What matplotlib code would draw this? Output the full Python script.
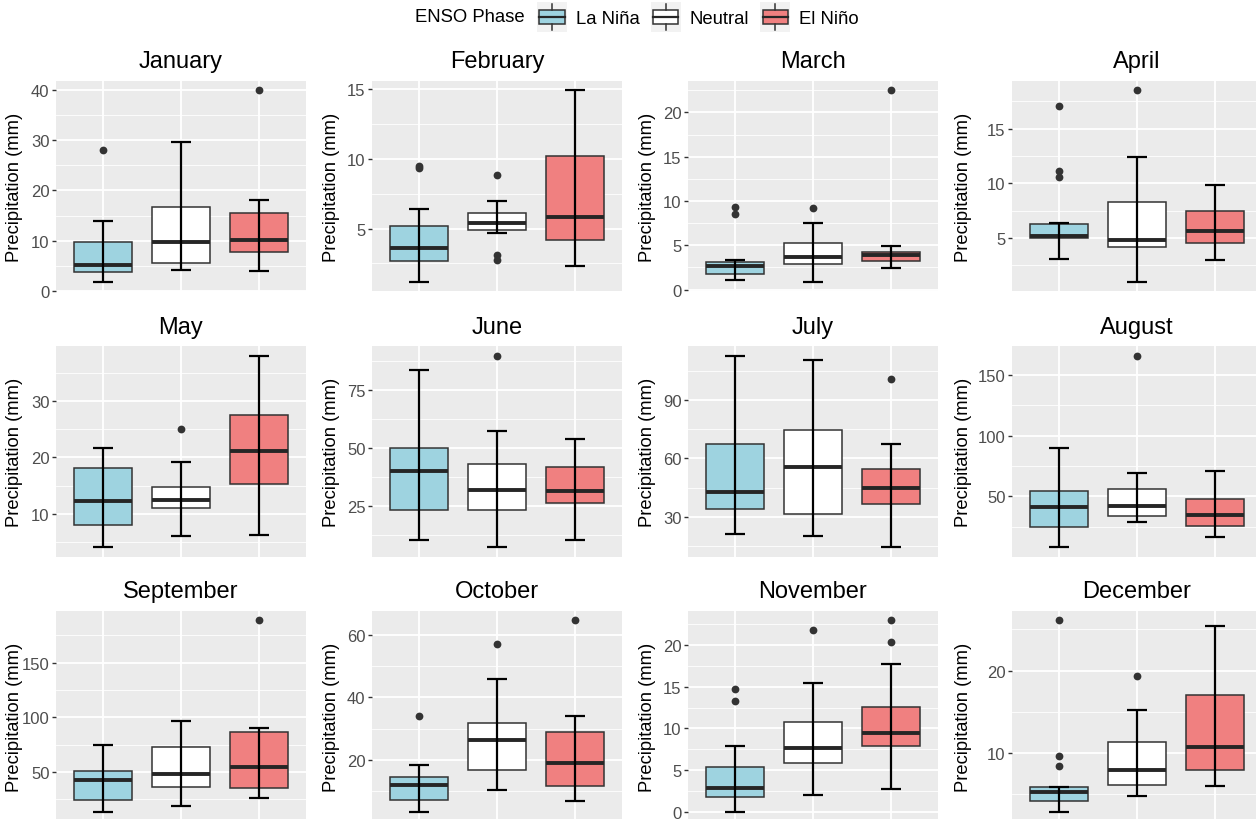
import matplotlib.pyplot as plt
from matplotlib.legend_handler import HandlerBase
from matplotlib.patches import Rectangle, Patch
from matplotlib.lines import Line2D

plt.rcParams['font.family'] = ['Liberation Sans', 'DejaVu Sans']

months = ['January', 'February', 'March', 'April', 'May', 'June',
          'July', 'August', 'September', 'October', 'November', 'December']
phases = ['La Niña', 'Neutral', 'El Niño']
phase_colors = ['#9ED3E0', '#FFFFFF', '#F08080']

# box statistics per month, one value per phase (La Niña, Neutral, El Niño)
whisker_low = [
    [1.8, 4.1, 3.9], [1.2, 4.7, 2.3], [1.1, 0.9, 2.4], [3.1, 1.0, 3.0],
    [4.0, 6.0, 6.2], [10.3, 7.3, 10.3], [21.1, 20.4, 14.4], [8.1, 28.6, 16.3],
    [13.5, 18.4, 25.7], [3.3, 10.4, 6.6], [0.0, 2.0, 2.7], [2.9, 4.8, 6.0],
]
q1 = [
    [3.7, 5.5, 7.7], [2.7, 4.9, 4.2], [1.8, 2.9, 3.2], [5.0, 4.2, 4.5],
    [8.0, 11.0, 15.2], [23.3, 23.1, 26.4], [33.9, 31.7, 36.7], [24.8, 33.6, 25.9],
    [23.9, 36.3, 35.1], [6.9, 16.7, 11.4], [1.7, 5.8, 7.9], [4.2, 6.1, 8.0],
]
medians = [
    [5.2, 9.75, 10.2], [3.6, 5.4, 5.8], [2.7, 3.7, 3.9], [5.15, 4.85, 5.6],
    [12.3, 12.5, 21.1], [40.3, 32.1, 31.3], [42.6, 55.5, 44.9], [41.0, 42.3, 34.4],
    [42.1, 47.6, 54.0], [11.7, 26.4, 18.8], [2.8, 7.7, 9.4], [5.3, 8.0, 10.7],
]
q3 = [
    [9.75, 16.6, 15.5], [5.2, 6.1, 10.2], [3.1, 5.3, 4.2], [6.3, 8.3, 7.5],
    [18.2, 14.7, 27.6], [50.0, 42.9, 41.7], [67.4, 74.6, 54.4], [54.1, 55.8, 47.8],
    [51.2, 73.1, 86.2], [14.5, 31.7, 29.0], [5.4, 10.8, 12.6], [5.85, 11.3, 17.0],
]
whisker_high = [
    [13.9, 29.6, 18.1], [6.4, 6.95, 14.9], [3.3, 7.5, 4.9], [6.4, 12.4, 9.8],
    [21.7, 19.2, 38.1], [83.6, 57.3, 54.0], [112.7, 110.7, 67.6], [90.0, 68.9, 71.0],
    [74.9, 96.5, 90.1], [18.3, 45.8, 34.0], [7.9, 15.5, 17.8], [5.85, 15.2, 25.4],
]
outliers = [
    [[28.1], [], [40.0]],
    [[9.3, 9.5], [8.8, 3.1, 2.75], []],
    [[9.3, 8.5], [9.2], [22.5]],
    [[17.1, 11.1, 10.6], [18.5], []],
    [[], [25.1], []],
    [[], [89.6], []],
    [[], [], [100.8]],
    [[], [165.6], []],
    [[], [], [188.9]],
    [[34.1], [57.2], [64.8]],
    [[14.7, 13.3], [21.8], [23.0, 20.4]],
    [[26.1, 9.6, 8.4], [19.3], []],
]
y_breaks = [
    [0, 10, 20, 30, 40], [5, 10, 15], [0, 5, 10, 15, 20], [5, 10, 15],
    [10, 20, 30], [25, 50, 75], [30, 60, 90], [50, 100, 150],
    [50, 100, 150], [20, 40, 60], [0, 5, 10, 15, 20], [10, 20],
]

# layout in pixels
FIG_W, FIG_H = 1256, 820
col_left = [56, 372, 688, 1012]
row_top = [81.7, 347.3, 611.7]
panel_w, panel_h = 250, 210.5
ylab_center = [15, 332, 647, 964]

BG = '#EBEBEB'
EDGE = '#333333'


class BoxKeyHandler(HandlerBase):
    def create_artists(self, legend, orig_handle, xdescent, ydescent,
                       width, height, fontsize, trans):
        x0, y0 = -xdescent, -ydescent
        cx = x0 + width / 2
        bg = Rectangle((x0, y0), width, height, facecolor='#F2F2F2',
                       edgecolor='none', transform=trans)
        box = Rectangle((x0 + 0.08 * width, y0 + 0.27 * height), 0.84 * width,
                        0.46 * height, facecolor=orig_handle.get_facecolor(),
                        edgecolor=EDGE, lw=1.1, transform=trans)
        med = Line2D([x0 + 0.08 * width, x0 + 0.92 * width],
                     [y0 + 0.5 * height] * 2, color='#262626', lw=1.6,
                     transform=trans)
        wlo = Line2D([cx, cx], [y0 + 0.06 * height, y0 + 0.27 * height],
                     color=EDGE, lw=1.1, transform=trans)
        whi = Line2D([cx, cx], [y0 + 0.73 * height, y0 + 0.94 * height],
                     color=EDGE, lw=1.1, transform=trans)
        return [bg, box, med, wlo, whi]


fig = plt.figure(figsize=(FIG_W / 100, FIG_H / 100), dpi=100)
positions = [1, 2, 3]

for m, month in enumerate(months):
    r, c = divmod(m, 4)
    ax = fig.add_axes([col_left[c] / FIG_W,
                       1 - (row_top[r] + panel_h) / FIG_H,
                       panel_w / FIG_W, panel_h / FIG_H])
    ax.set_facecolor(BG)
    for s in ax.spines.values():
        s.set_visible(False)

    stats = []
    for p in range(3):
        stats.append(dict(med=medians[m][p], q1=q1[m][p], q3=q3[m][p],
                          whislo=whisker_low[m][p], whishi=whisker_high[m][p],
                          fliers=outliers[m][p]))
    bp = ax.bxp(stats, positions=positions, widths=0.75, patch_artist=True,
                showcaps=False,
                boxprops=dict(edgecolor=EDGE, linewidth=1.1),
                medianprops=dict(color='#262626', linewidth=2.8,
                                 solid_capstyle='butt'),
                whiskerprops=dict(linestyle='none'),
                flierprops=dict(marker='o', markerfacecolor=EDGE,
                                markeredgecolor='none', markersize=5.6))
    for patch, col in zip(bp['boxes'], phase_colors):
        patch.set_facecolor(col)
        patch.set_zorder(2)

    # error bar style whiskers drawn over the boxes
    ax.vlines(positions, whisker_low[m], whisker_high[m], color='black',
              lw=1.6, zorder=4)
    xl = [x - 0.125 for x in positions]
    xr = [x + 0.125 for x in positions]
    ax.hlines(whisker_low[m], xl, xr, color='black', lw=1.6, zorder=4)
    ax.hlines(whisker_high[m], xl, xr, color='black', lw=1.6, zorder=4)

    ax.set_xlim(0.4, 3.6)
    ax.margins(y=0.05)
    ax.autoscale_view()
    lo, hi = ax.get_ylim()
    br = y_breaks[m]
    step = br[1] - br[0]
    minor = [b - step / 2 for b in br] + [br[-1] + step / 2]
    minor = [v for v in minor if lo <= v <= hi]
    ax.set_yticks(br)
    ax.set_yticks(minor, minor=True)
    ax.set_ylim(lo, hi)
    ax.set_xticks(positions)
    ax.set_xticklabels([])

    ax.tick_params(axis='x', length=0)
    ax.tick_params(axis='y', which='major', labelsize=12, labelcolor='#4D4D4D',
                   color=EDGE, length=3.2, width=1.0, pad=1.5)
    ax.tick_params(axis='y', which='minor', length=0)
    ax.grid(which='major', color='white', lw=1.3)
    ax.grid(which='minor', axis='y', color='white', lw=0.6)
    ax.set_axisbelow(True)

    ax.set_title(month, fontsize=17, pad=9.6, color='black')
    ax.set_ylabel('Precipitation (mm)', fontsize=13.2, va='center')
    ax.yaxis.set_label_coords((ylab_center[c] - col_left[c]) / panel_w, 0.5)

# legend across the top
fig.text(415 / FIG_W, 1 - 18 / FIG_H, 'ENSO Phase', fontsize=13.3,
         ha='left', va='center')
handles = [Patch(facecolor=col, edgecolor=EDGE) for col in phase_colors]
fs_px = 13.3 * 100 / 72
key_h = (30 / fs_px - 0.245) / 0.65
fig.legend(handles=handles, labels=phases, handler_map={Patch: BoxKeyHandler()},
           ncol=3, loc='center left', bbox_to_anchor=(537 / FIG_W, 1 - 18 / FIG_H),
           frameon=False, fontsize=13.3, handlelength=30 / fs_px,
           handleheight=key_h, handletextpad=9 / fs_px,
           columnspacing=11 / fs_px, borderpad=0, borderaxespad=0)

fig.savefig('out.png', dpi=100)
